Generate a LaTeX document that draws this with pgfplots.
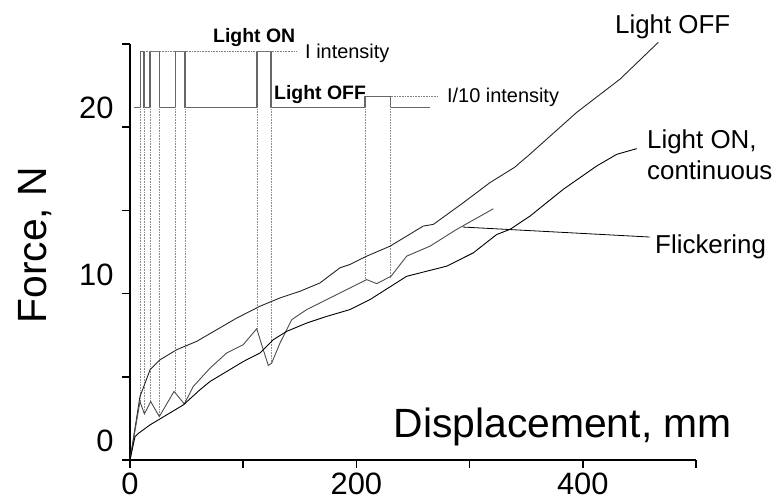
\documentclass[border=0pt]{standalone}
\usepackage{fontspec}
\setmainfont{Liberation Sans}
\usepackage{pgfplots}
\pgfplotsset{compat=1.18}
\begin{document}
\begin{tikzpicture}
\useasboundingbox (0,0) rectangle (774bp,502bp);
\begin{axis}[
  at={(130bp,42bp)}, anchor=south west,
  scale only axis, width=566bp, height=416bp,
  xmin=0, xmax=500, ymin=0, ymax=25,
  axis x line*=bottom, axis y line*=left,
  axis line style={line width=1.6bp, -},
  xtick={0,100,...,500}, xticklabels={0,,200,,400,},
  ytick={0,5,...,25}, yticklabels={0,,10,,20,},
  tick align=outside, major tick length=8bp,
  tick style={line width=1.6bp, black},
  tick label style={font=\fontsize{31}{37}\selectfont},
  /pgf/number format/assume math mode=true,
  xticklabel style={yshift=-4bp, inner ysep=1bp},
  yticklabel style={yshift=19bp, xshift=-5bp},
  clip=false,
]
% step signal
\addplot[black!60, line width=1.1bp] coordinates {
(3.5,21.19) (9.4,21.19) (9.4,24.56) (12.4,24.56) (12.4,21.19) (17.7,21.19) (17.7,24.56) (25.9,24.56) (25.9,21.19)
(40.4,21.19) (40.4,24.56) (48.6,24.56) (48.6,21.19) (112.2,21.19) (112.2,24.56) (124.6,24.56) (124.6,21.19)
(207.6,21.19) (207.6,21.85) (230.3,21.85) (230.3,21.19) (265,21.19)};
% dotted guides
\addplot[black!50, densely dotted, line width=0.6bp] coordinates {(12.4,24.56) (147.3,24.56)};
\addplot[black!50, densely dotted, line width=0.6bp] coordinates {(230.3,21.85) (272,21.85)};
\addplot[black!45, densely dotted, line width=0.6bp] coordinates {(9.4,21.19) (9.4,3.5)};
\addplot[black!45, densely dotted, line width=0.6bp] coordinates {(12.4,21.19) (12.4,2.8)};
\addplot[black!45, densely dotted, line width=0.6bp] coordinates {(17.7,21.19) (17.7,3.5)};
\addplot[black!45, densely dotted, line width=0.6bp] coordinates {(25.9,21.19) (25.9,2.6)};
\addplot[black!45, densely dotted, line width=0.6bp] coordinates {(40.4,21.19) (40.4,4.1)};
\addplot[black!45, densely dotted, line width=0.6bp] coordinates {(48.6,21.19) (48.6,3.4)};
\addplot[black!45, densely dotted, line width=0.6bp] coordinates {(112.2,21.19) (112.2,7.9)};
\addplot[black!45, densely dotted, line width=0.6bp] coordinates {(124.6,21.19) (124.6,5.8)};
\addplot[black!45, densely dotted, line width=0.6bp] coordinates {(207.6,21.19) (207.6,10.8)};
\addplot[black!45, densely dotted, line width=0.6bp] coordinates {(230.3,21.19) (230.3,11.0)};
% Light OFF
\addplot[black!85, line width=0.9bp] coordinates {
(0,0) (8.8,3.81) (13.3,4.62) (17.7,5.42) (26.5,6.02) (41.3,6.63) (58.9,7.13) (76.6,7.83) (94.3,8.53)
(114.8,9.24) (132.5,9.74) (150.2,10.14) (167.8,10.64) (185.5,11.55) (194.3,11.75) (209.1,12.25)
(229.7,12.85) (259.1,14.06) (268,14.16) (294.4,15.46) (318,16.67) (340,17.6) (344.5,17.87) (352,18.3)
(394.6,20.89) (432.9,22.89) (466.7,25.1)};
% Flickering
\addplot[black!70, line width=0.9bp] coordinates {
(0,0) (8.8,3.51) (12.7,2.77) (18.3,3.51) (25.9,2.61) (38.9,4.12) (48,3.37) (55.9,4.42) (70.7,5.52)
(85.4,6.43) (100,6.93) (112,7.89) (116.3,6.93) (122.2,5.68) (125.2,5.83) (132.5,7.03) (142.8,8.43)
(156.1,9.04) (173.8,9.64) (194.3,10.34) (209.1,10.84) (217.9,10.6) (230.6,11.04) (244.4,12.25)
(265,12.85) (288.6,13.86) (321,15.1)};
% Light ON continuous
\addplot[black, line width=0.9bp] coordinates {
(0,0) (4.4,1.4) (7.4,1.6) (17.7,2.11) (32.4,2.71) (47.1,3.31) (61.8,4.22) (70.7,4.72) (85.4,5.32)
(100.1,5.92) (114.8,6.43) (126.6,7.23) (138.4,7.73) (156.1,8.23) (173.8,8.63) (194.3,9.04) (212,9.64)
(244.4,11.04) (279.8,11.65) (303.3,12.45) (323.9,13.55) (335.7,13.86) (353.4,14.66) (382.8,16.27)
(412.3,17.67) (430,18.37) (447.6,18.71)};
% pointer
\addplot[black, line width=0.8bp] coordinates {(294,14.0) (459,13.4)};
% labels
\node[anchor=base west, inner sep=0pt, font=\fontsize{26}{31}\selectfont] at (axis cs:428.4,25.66) {Light OFF};
\node[anchor=base west, inner sep=0pt, font=\fontsize{26}{31}\selectfont] at (axis cs:456.7,18.73) {Light ON,};
\node[anchor=base west, inner sep=0pt, font=\fontsize{26}{31}\selectfont] at (axis cs:456.7,16.87) {continuous};
\node[anchor=base west, inner sep=0pt, font=\fontsize{26}{31}\selectfont] at (axis cs:463.8,12.43) {Flickering};
\node[anchor=base west, inner sep=0pt, font=\fontsize{20}{24}\selectfont] at (axis cs:154.6,24.14) {I intensity};
\node[anchor=base west, inner sep=0pt, font=\fontsize{20}{24}\selectfont] at (axis cs:280,21.5) {I/10 intensity};
\node[anchor=base west, inner sep=0pt, font=\fontsize{19.5}{24}\selectfont\bfseries] at (axis cs:73.3,25.12) {Light ON};
\node[anchor=base west, inner sep=0pt, font=\fontsize{19.5}{24}\selectfont\bfseries] at (axis cs:127.2,21.69) {Light OFF};
\node[anchor=base east, inner sep=0pt, font=\fontsize{41}{49}\selectfont] at (axis cs:531.8,1.33) {Displacement, mm};
\node[rotate=90, anchor=center, inner sep=0pt, font=\fontsize{41}{49}\selectfont] at (axis cs:-84,12.9) {Force, N};
\end{axis}
\end{tikzpicture}
\end{document}
